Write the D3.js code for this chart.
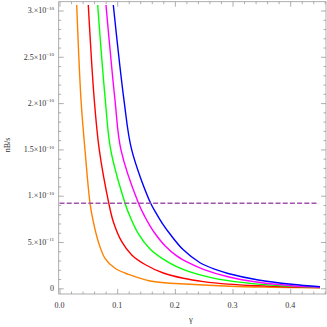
<!DOCTYPE html>
<html>
<head>
<meta charset="utf-8">
<script src="https://cdn.jsdelivr.net/npm/d3@7"></script>
<style>
  html, body { margin: 0; padding: 0; background: #fff; }
  svg { display: block; }
  text { font-family: "Liberation Serif", "DejaVu Serif", serif; fill: #333; }
</style>
</head>
<body>
<div id="chart"></div>
<script>
// values are in units of 1e-10 (nB/s)
const orangeGamma = [0.0298, 0.0373, 0.0442, 0.0529, 0.0586, 0.0673, 0.0789, 0.0962, 0.1193, 0.1569, 0.2263, 0.2956, 0.365, 0.4517];
const orangeValue = [3.059, 2.033, 1.494, 0.918, 0.719, 0.503, 0.324, 0.216, 0.151, 0.079, 0.043, 0.022, 0.012, 0.005];

const redGamma = [0.0499, 0.0603, 0.0690, 0.0855, 0.0933, 0.1079, 0.1252, 0.1483, 0.1800, 0.2147, 0.2494, 0.2922, 0.3447, 0.4026, 0.4517];
const redValue = [3.059, 2.033, 1.494, 0.918, 0.719, 0.503, 0.360, 0.257, 0.165, 0.108, 0.072, 0.045, 0.027, 0.014, 0.007];

const greenGamma = [0.0662, 0.0794, 0.0888, 0.1136, 0.1193, 0.1366, 0.1569, 0.1812, 0.2032, 0.2263, 0.2610, 0.2922, 0.3447, 0.4026, 0.4517];
const greenValue = [3.059, 2.033, 1.494, 0.918, 0.820, 0.590, 0.425, 0.310, 0.235, 0.178, 0.118, 0.083, 0.045, 0.021, 0.009];

const magentaGamma = [0.0806, 0.0962, 0.1066, 0.1370, 0.1483, 0.1569, 0.1656, 0.1829, 0.2032, 0.2263, 0.2494, 0.2922, 0.3447, 0.4026, 0.4517];
const magentaValue = [3.059, 2.033, 1.494, 0.918, 0.770, 0.675, 0.592, 0.460, 0.350, 0.268, 0.205, 0.125, 0.065, 0.028, 0.012];

const blueGamma = [0.0933, 0.1118, 0.1252, 0.1581, 0.1685, 0.1800, 0.1916, 0.2147, 0.2436, 0.2726, 0.2922, 0.3447, 0.4026, 0.4517];
const blueValue = [3.059, 2.033, 1.494, 0.918, 0.802, 0.685, 0.586, 0.415, 0.276, 0.198, 0.160, 0.090, 0.043, 0.017];

const seriesNames = ["orange", "red", "green", "magenta", "blue"];
const seriesColors = ["#ff8000", "#ff0000", "#00ff00", "#ff00ff", "#0000ff"];

const observedGamma = [0, 0.446];
const observedValue = 0.918;

const xTickValues = [0, 0.1, 0.2, 0.3, 0.4];
const xTickLabels = ["0.0", "0.1", "0.2", "0.3", "0.4"];
const yTickValues = [0, 0.5, 1, 1.5, 2, 2.5, 3];
const yTickMantissa = ["0", "5.", "1.", "1.5", "2.", "2.5", "3."];
const yTickExponent = [null, "\u221211", "\u221210", "\u221210", "\u221210", "\u221210", "\u221210"];

const xAxisLabel = "\u03b3";
const yAxisLabel = "nB/s";

const width = 327, height = 327;
const frame = {left: 58.7, right: 326, top: 1.7, bottom: 294};

const svg = d3.select("#chart").append("svg")
    .attr("width", width)
    .attr("height", height);

const xScale = d3.scaleLinear()
    .domain([-0.0014, 0.4621])
    .range([frame.left, frame.right]);

const yScale = d3.scaleLinear()
    .domain([-0.0616, 3.095])
    .range([frame.bottom, frame.top]);

const xMinor = d3.range(0, 0.461, 0.02).filter(v => Math.abs(v * 10 - Math.round(v * 10)) > 1e-6);
const yMinor = d3.range(0, 3.09, 0.1).filter(v => Math.abs(v * 2 - Math.round(v * 2)) > 1e-6);

function tickAxis(axisFn, scale, values, size, transform) {
    const g = svg.append("g")
        .attr("transform", transform)
        .call(axisFn(scale).tickValues(values).tickSize(size).tickFormat("").tickSizeOuter(0));
    g.select(".domain").remove();
    g.selectAll("line").attr("stroke", "#999").attr("stroke-width", 0.8);
    return g;
}

// frame
svg.append("rect")
    .attr("x", frame.left)
    .attr("y", frame.top)
    .attr("width", frame.right - frame.left)
    .attr("height", frame.bottom - frame.top)
    .attr("fill", "none")
    .attr("stroke", "#999")
    .attr("stroke-width", 0.8);

// inward ticks on all four sides
tickAxis(d3.axisBottom, xScale, xTickValues, -5, `translate(0,${frame.bottom})`);
tickAxis(d3.axisBottom, xScale, xMinor, -2.5, `translate(0,${frame.bottom})`);
tickAxis(d3.axisTop, xScale, xTickValues, -5, `translate(0,${frame.top})`);
tickAxis(d3.axisTop, xScale, xMinor, -2.5, `translate(0,${frame.top})`);
tickAxis(d3.axisLeft, yScale, yTickValues, -5, `translate(${frame.left},0)`);
tickAxis(d3.axisLeft, yScale, yMinor, -2.5, `translate(${frame.left},0)`);
tickAxis(d3.axisRight, yScale, yTickValues, -5, `translate(${frame.right},0)`);
tickAxis(d3.axisRight, yScale, yMinor, -2.5, `translate(${frame.right},0)`);

// x tick labels
svg.append("g")
    .selectAll("text")
    .data(xTickValues)
    .enter().append("text")
    .attr("x", d => xScale(d))
    .attr("y", 307.5)
    .attr("text-anchor", "middle")
    .attr("font-size", 8)
    .text((d, i) => xTickLabels[i]);

// y tick labels with superscript exponent
const yLabels = svg.append("g")
    .selectAll("text")
    .data(yTickValues)
    .enter().append("text")
    .attr("x", 54)
    .attr("y", d => yScale(d) + 2.8)
    .attr("text-anchor", "end")
    .attr("font-size", 8);

yLabels.append("tspan")
    .text((d, i) => yTickExponent[i] ? yTickMantissa[i] + "\u00d710" : yTickMantissa[i]);
yLabels.filter((d, i) => yTickExponent[i] !== null)
    .append("tspan")
    .attr("dy", -3.5)
    .attr("font-size", 5)
    .text(d => yTickExponent[yTickValues.indexOf(d)]);

// axis titles
svg.append("text")
    .attr("x", 191)
    .attr("y", 322)
    .attr("text-anchor", "middle")
    .attr("font-size", 8.5)
    .text(xAxisLabel);

svg.append("text")
    .attr("transform", "translate(10,145) rotate(-90)")
    .attr("text-anchor", "middle")
    .attr("font-size", 8)
    .text(yAxisLabel);

// curves
const allGamma = [orangeGamma, redGamma, greenGamma, magentaGamma, blueGamma];
const allValue = [orangeValue, redValue, greenValue, magentaValue, blueValue];

const line = d3.line()
    .x(d => xScale(d[0]))
    .y(d => yScale(d[1]))
    .curve(d3.curveCatmullRom.alpha(0.5));

svg.append("g")
    .selectAll("path")
    .data(seriesNames)
    .enter().append("path")
    .attr("d", (name, i) => line(d3.zip(allGamma[i], allValue[i])))
    .attr("fill", "none")
    .attr("stroke", (name, i) => seriesColors[i])
    .attr("stroke-width", 1.4);

// observed value, dashed
svg.append("line")
    .attr("x1", xScale(observedGamma[0]))
    .attr("x2", xScale(observedGamma[1]))
    .attr("y1", yScale(observedValue))
    .attr("y2", yScale(observedValue))
    .attr("stroke", "#a052ac")
    .attr("stroke-width", 1.6)
    .attr("stroke-dasharray", "5,2.2");
</script>
</body>
</html>
